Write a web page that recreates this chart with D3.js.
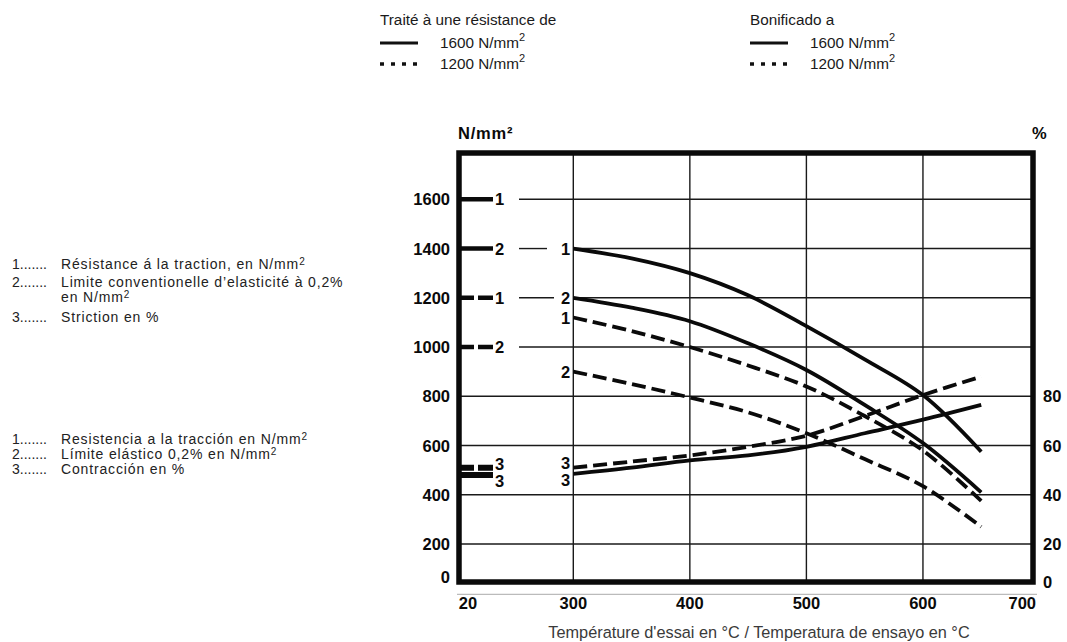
<!DOCTYPE html>
<html>
<head>
<meta charset="utf-8">
<script src="https://cdn.jsdelivr.net/npm/d3@7"></script>
<style>
  html, body { margin: 0; padding: 0; background: #fff; }
  svg { display: block; }
  text { font-family: "Liberation Sans", Arial, Helvetica, sans-serif; }
</style>
</head>
<body>
<svg id="chart" width="1067" height="642"></svg>
<script>
// Test temperatures (°C) for the elevated-temperature curves
const temps = [300, 350, 400, 450, 500, 550, 600, 650];

// Strength in N/mm²
const tensile1600 = [1400, 1360, 1300, 1210, 1085, 950, 805, 575];
const yield1600   = [1200, 1160, 1105, 1015, 907, 765, 610, 410];
const tensile1200 = [1120, 1065, 1000, 925, 840, 720, 580, 375];
const yield1200   = [900, 850, 795, 735, 650, 545, 435, 270];

// Reduction of area in %
const striction1600 = [48.5, 51, 54, 56, 59.5, 65, 70.5, 76.5];
const striction1200 = [51, 53.5, 56, 59.5, 64, 72, 80.5, 88];

// Room-temperature (20 °C) values
const roomTemp = 20;
const room1600 = { tensile: 1600, yield: 1400, striction: 48 };
const room1200 = { tensile: 1200, yield: 1000, striction: 51 };

// Tick values
const xTicks = [20, 300, 400, 500, 600, 700];
const xGrid = [300, 400, 500, 600];
const yTicks = [0, 200, 400, 600, 800, 1000, 1200, 1400, 1600];
const pctTicks = [0, 20, 40, 60, 80];

const svg = d3.select("#chart");

// Plot frame
const frame = { left: 459, right: 1033, top: 153, bottom: 582 };

// Broken temperature axis: 20 → 300 compressed, then linear
const x = d3.scaleLinear().domain([20, 300, 700]).range([459, 573.3, 1039.5]);
const y = d3.scaleLinear().domain([0, 1600]).range([593.3, 199.3]);
const yPct = d3.scaleLinear().domain([0, 160]).range([593.3, 199.3]);

const ink = "#0a0a0a";

// ---------- Legends at top ----------
function legendBlock(x0, title, entries) {
  const g = svg.append("g").attr("fill", "#1a1a1a");
  g.append("text").attr("x", x0).attr("y", 25).attr("font-size", 15.3).text(title);
  entries.forEach((e, i) => {
    const yy = 43 + i * 21;
    g.append("line")
      .attr("x1", x0).attr("x2", x0 + 38).attr("y1", yy).attr("y2", yy)
      .attr("stroke", "#111")
      .attr("stroke-width", e.dashed ? 3.5 : 2.8)
      .attr("stroke-dasharray", e.dashed ? "4,7" : null);
    const t = g.append("text").attr("x", x0 + 60).attr("y", yy + 5).attr("font-size", 15.3);
    t.append("tspan").text(e.label + " N/mm");
    t.append("tspan").attr("dy", -7).attr("font-size", 11).text("2");
  });
}
legendBlock(380, "Traité à une résistance de", [{ label: "1600", dashed: false }, { label: "1200", dashed: true }]);
legendBlock(750, "Bonificado a", [{ label: "1600", dashed: false }, { label: "1200", dashed: true }]);

// ---------- Left explanatory notes ----------
function noteLine(yy, num, parts) {
  const g = svg.append("g").attr("fill", "#222").attr("font-size", 14);
  if (num) g.append("text").attr("x", 12).attr("y", yy).text(num + ".......");
  const t = g.append("text").attr("x", 61).attr("y", yy).attr("letter-spacing", 0.85);
  parts.forEach(p => {
    if (p.sup) t.append("tspan").attr("dy", -4).attr("font-size", 10).text(p.text);
    else t.append("tspan").text(p.text);
  });
}
noteLine(269, "1", [{ text: "Résistance á la traction, en N/mm" }, { text: "2", sup: true }]);
noteLine(287, "2", [{ text: "Limite conventionelle d’elasticité à  0,2%" }]);
noteLine(302, null, [{ text: "en N/mm" }, { text: "2", sup: true }]);
noteLine(322, "3", [{ text: "Striction en %" }]);

noteLine(444, "1", [{ text: "Resistencia a la tracción en N/mm" }, { text: "2", sup: true }]);
noteLine(459, "2", [{ text: "Límite elástico 0,2% en N/mm" }, { text: "2", sup: true }]);
noteLine(474, "3", [{ text: "Contracción en %" }]);

// ---------- Grid ----------
const grid = svg.append("g").attr("stroke", "#1a1a1a").attr("stroke-width", 1.4);
// vertical grid lines
grid.selectAll("line.v").data(xGrid).join("line")
  .attr("x1", d => x(d)).attr("x2", d => x(d))
  .attr("y1", frame.top).attr("y2", frame.bottom);
// horizontal grid lines; the upper ones leave room for the 20 °C marker labels
const gridSegs = [];
yTicks.filter(v => v > 0).forEach(v => {
  if (v >= 1000) {
    if (v === 1400 || v === 1200) {
      gridSegs.push({ v, x1: 519, x2: v === 1400 ? 547 : 554 });
      gridSegs.push({ v, x1: x(300), x2: frame.right });
    } else {
      gridSegs.push({ v, x1: 519, x2: frame.right });
    }
  } else {
    gridSegs.push({ v, x1: frame.left, x2: frame.right });
  }
});
grid.selectAll("line.h").data(gridSegs).join("line")
  .attr("x1", d => d.x1).attr("x2", d => d.x2)
  .attr("y1", d => y(d.v)).attr("y2", d => y(d.v));

// faint baseline under the frame
svg.append("line")
  .attr("x1", frame.left - 2).attr("x2", frame.right + 4)
  .attr("y1", y(0) + 1).attr("y2", y(0) + 1)
  .attr("stroke", "#aaa").attr("stroke-width", 1);

// ---------- Curves ----------
const line = d3.line()
  .x(d => x(d[0]))
  .y(d => d[1])
  .curve(d3.curveCatmullRom.alpha(0.5));

const curves = [
  { vals: tensile1600, scale: y, dashed: false },
  { vals: yield1600, scale: y, dashed: false },
  { vals: tensile1200, scale: y, dashed: true },
  { vals: yield1200, scale: y, dashed: true },
  { vals: striction1600, scale: yPct, dashed: false },
  { vals: striction1200, scale: yPct, dashed: true }
];
svg.append("g").selectAll("path").data(curves).join("path")
  .attr("d", c => line(temps.map((t, i) => [t, c.scale(c.vals[i])])))
  .attr("fill", "none")
  .attr("stroke", ink)
  .attr("stroke-width", 3.8)
  .attr("stroke-dasharray", c => c.dashed ? "14,6" : null);

// ---------- Room-temperature markers ----------
const markers = [
  { v: y(room1600.tensile), dashed: false, label: "1" },
  { v: y(room1600.yield), dashed: false, label: "2" },
  { v: y(room1200.tensile), dashed: true, label: "1" },
  { v: y(room1200.yield), dashed: true, label: "2" },
  { v: yPct(room1200.striction), dashed: true, label: "3", dy: -4 },
  { v: yPct(room1600.striction), dashed: false, label: "3", dy: 6 }
];
const mk = svg.append("g");
mk.selectAll("line").data(markers).join("line")
  .attr("x1", x(roomTemp)).attr("x2", x(roomTemp) + 34)
  .attr("y1", d => d.v).attr("y2", d => d.v)
  .attr("stroke", ink).attr("stroke-width", d => d.label === "3" ? 6 : 4.5)
  .attr("stroke-dasharray", d => d.dashed ? "15,4" : null);
mk.selectAll("text").data(markers).join("text")
  .attr("x", x(roomTemp) + 36).attr("y", d => d.v + (d.dy || 0) + 6)
  .attr("font-size", 16.5).attr("font-weight", "bold").attr("fill", ink)
  .text(d => d.label);

// Curve labels at 300 °C
const startLabels = [
  { v: y(tensile1600[0]), label: "1" },
  { v: y(yield1600[0]), label: "2" },
  { v: y(tensile1200[0]), label: "1" },
  { v: y(yield1200[0]), label: "2" },
  { v: yPct(striction1200[0]), label: "3", dy: -5 },
  { v: yPct(striction1600[0]), label: "3", dy: 6 }
];
svg.append("g").selectAll("text").data(startLabels).join("text")
  .attr("x", x(300) - 3).attr("y", d => d.v + (d.dy || 0) + 6)
  .attr("text-anchor", "end")
  .attr("font-size", 16.5).attr("font-weight", "bold").attr("fill", ink)
  .text(d => d.label);

// ---------- Frame ----------
svg.append("rect")
  .attr("x", frame.left).attr("y", frame.top)
  .attr("width", frame.right - frame.left).attr("height", frame.bottom - frame.top)
  .attr("fill", "none").attr("stroke", ink).attr("stroke-width", 5.5);

// ---------- Axis labels ----------
const tickFont = { size: 16.5, weight: "bold" };
svg.append("g").selectAll("text").data(yTicks).join("text")
  .attr("x", 450)
  .attr("y", d => Math.min(y(d), frame.bottom - 5) + 6)
  .attr("text-anchor", "end")
  .attr("font-size", tickFont.size).attr("font-weight", tickFont.weight).attr("fill", ink)
  .text(d => d);

svg.append("g").selectAll("text").data(pctTicks).join("text")
  .attr("x", 1043)
  .attr("y", d => Math.min(yPct(d), frame.bottom) + 6)
  .attr("font-size", tickFont.size).attr("font-weight", tickFont.weight).attr("fill", ink)
  .text(d => d);

svg.append("g").selectAll("text").data(xTicks).join("text")
  .attr("x", d => d === 700 ? frame.right + 3 : (d === 20 ? x(d) + 9 : x(d)))
  .attr("y", 609)
  .attr("text-anchor", d => d === 700 ? "end" : "middle")
  .attr("font-size", tickFont.size).attr("font-weight", tickFont.weight).attr("fill", ink)
  .text(d => d);

// Unit labels
svg.append("text").attr("x", 458).attr("y", 139)
  .attr("font-size", 16.5).attr("font-weight", "bold").attr("letter-spacing", 0.8)
  .attr("fill", ink).text("N/mm²");
svg.append("text").attr("x", 1032).attr("y", 139)
  .attr("font-size", 16.5).attr("font-weight", "bold").attr("fill", ink).text("%");

// Temperature axis title
svg.append("text").attr("x", 759).attr("y", 638)
  .attr("text-anchor", "middle")
  .attr("font-size", 16.3).attr("fill", "#3a3a3a")
  .text("Température d'essai en °C / Temperatura de ensayo en °C");
</script>
</body>
</html>
